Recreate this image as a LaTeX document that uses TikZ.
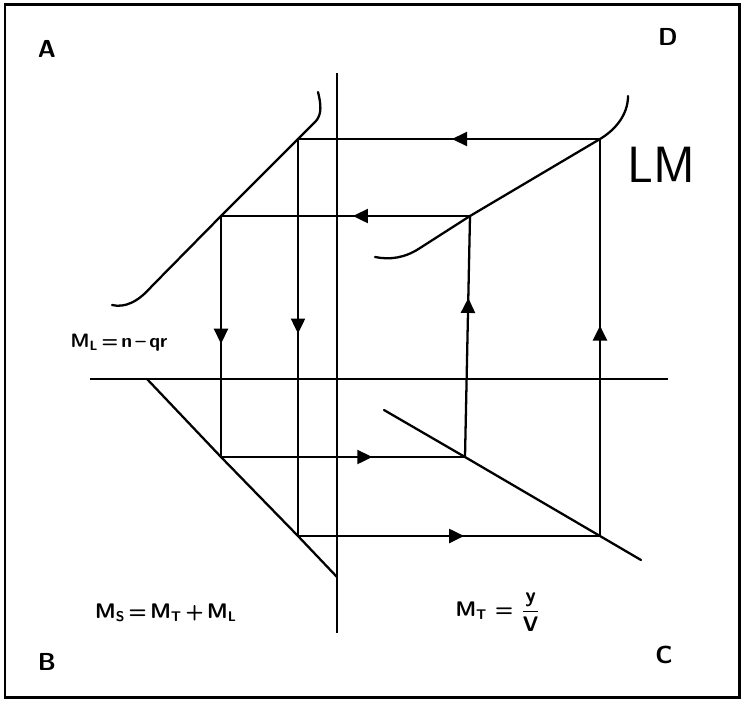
\documentclass[tikz,border=0pt]{standalone}
\usepackage{amsmath}
\usepackage{tikz}
\usetikzlibrary{arrows.meta,decorations.markings}
\tikzset{
  frame/.style  = {line width=1.7pt},
  axis/.style   = {line width=1.3pt},
  curve/.style  = {line width=1.3pt, line cap=round},
  flow/.style   = {line width=1.3pt, postaction={decorate},
                   decoration={markings, mark=at position #1 with
                   {\arrow{Triangle[length=3mm, width=2.8mm]}}}},
  corner/.style = {font=\sffamily\bfseries\fontsize{14}{16}\selectfont},
  eq/.style     = {font=\sffamily\bfseries\fontsize{11}{13}\selectfont},
  lbl/.style    = {font=\sffamily\fontsize{29}{30}\selectfont},
}

\begin{document}
\begin{tikzpicture}[x=0.02cm, y=-0.02cm]
  \useasboundingbox (0,0) rectangle (743,701);
  \draw[frame] (5,4) rectangle (739,697);

  % axes
  \coordinate (xl) at (90,379);
  \coordinate (xr) at (668,379);
  \coordinate (yt) at (337,73);
  \coordinate (yb) at (337,633);
  \draw[axis] (xl) -- (xr);
  \draw[axis] (yt) -- (yb);

  % corners of the two cycles
  \coordinate (p1) at (298,139);
  \coordinate (p2) at (600,139);
  \coordinate (p3) at (600,536);
  \coordinate (p4) at (298,536);
  \coordinate (q1) at (221,216);
  \coordinate (q2) at (470,216);
  \coordinate (q3) at (465,457);
  \coordinate (q4) at (221,457);

  % curves
  \draw[curve] (112,305) .. controls (125,308) and (138,302) .. (152,286)
    -- (q1) -- (p1) -- (316,121) .. controls (322,114) and (321,104) .. (318,92);
  \draw[curve] (375,257) .. controls (390,260) and (405,258) .. (420,248)
    -- (q2) -- (p2) .. controls (615,130) and (628,115) .. (628,96);
  \draw[curve] (147,379) -- (q4) -- (p4) -- (337,577);
  \draw[curve] (384,410) -- (q3) -- (p3) -- (641,560);

  % flows
  \draw[flow=0.49] (p2) -- (p1);
  \draw[flow=0.49] (p1) -- (p4);
  \draw[flow=0.55] (p4) -- (p3);
  \draw[flow=0.53] (p3) -- (p2);
  \draw[flow=0.47] (q2) -- (q1);
  \draw[flow=0.53] (q1) -- (q4);
  \draw[flow=0.62] (q4) -- (q3);
  \draw[flow=0.66] (q3) -- (q2);

  % labels
  \node[corner] (a) at (47,49) {A};
  \node[corner] (d) at (668,37) {D};
  \node[corner] (b) at (47,662) {B};
  \node[corner] (c) at (664,655) {C};
  \node[lbl] (lm) at (661,165) {LM};
  \node[eq] (ml) at (119,343) {M\textsubscript{L}\,=\,n\,--\,qr};
  \node[eq, font=\sffamily\bfseries\fontsize{12}{14}\selectfont] (ms) at (166,613)
    {M\textsubscript{S}\,=\,M\textsubscript{T}\,+\,M\textsubscript{L}};
  \node[eq, font=\sffamily\bfseries\fontsize{12}{14}\selectfont] (mt) at (498,612)
    {M\textsubscript{T} = $\dfrac{\textsf{\bfseries y}}{\textsf{\bfseries V}}$};
\end{tikzpicture}
\end{document}
